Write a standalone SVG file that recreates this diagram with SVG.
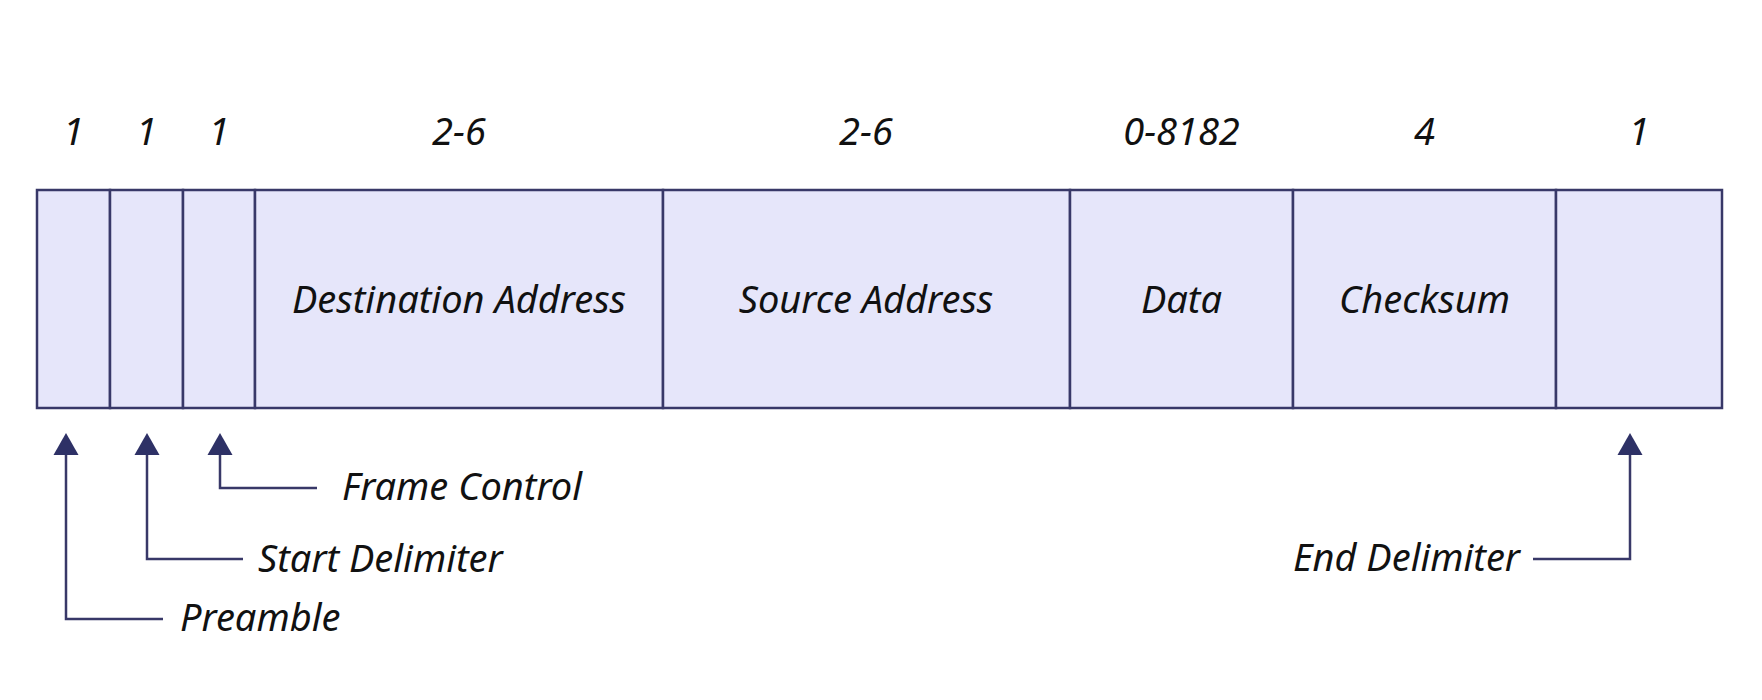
<svg xmlns="http://www.w3.org/2000/svg" width="1762" height="700" viewBox="0 0 1762 700">
<style>
.cell{fill:#e6e6fa;stroke:#383868;stroke-width:2.5}
.t{font-family:"Noto Sans","Liberation Sans",sans-serif;font-style:italic;font-size:38px;fill:#111}
.m{text-anchor:middle}
.c{fill:none;stroke:#383868;stroke-width:2.5}
.h{fill:#2e3166}
</style>
<rect width="1762" height="700" fill="#ffffff"/>
<g id="sizes">
<text class="t m" x="73.5" y="145">1</text>
<text class="t m" x="146.5" y="145">1</text>
<text class="t m" x="219" y="145">1</text>
<text class="t m" x="459" y="145">2-6</text>
<text class="t m" x="866" y="145">2-6</text>
<text class="t m" x="1181.5" y="145">0-8182</text>
<text class="t m" x="1424.5" y="145">4</text>
<text class="t m" x="1639" y="145">1</text>
</g>
<g id="preamble"><rect class="cell" x="37" y="190" width="73" height="218"/></g>
<g id="start-delimiter"><rect class="cell" x="110" y="190" width="73" height="218"/></g>
<g id="frame-control"><rect class="cell" x="183" y="190" width="72" height="218"/></g>
<g id="destination-address"><rect class="cell" x="255" y="190" width="408" height="218"/><text class="t m" x="459" y="313">Destination Address</text></g>
<g id="source-address"><rect class="cell" x="663" y="190" width="407" height="218"/><text class="t m" x="866" y="313">Source Address</text></g>
<g id="data"><rect class="cell" x="1070" y="190" width="223" height="218"/><text class="t m" x="1181.5" y="313">Data</text></g>
<g id="checksum"><rect class="cell" x="1293" y="190" width="263" height="218"/><text class="t m" x="1424.5" y="313">Checksum</text></g>
<g id="end-delimiter"><rect class="cell" x="1556" y="190" width="166" height="218"/></g>
<g id="connectors">
<polyline class="c" points="66,454 66,619 163,619"/>
<polygon class="h" points="66,433 53.5,455 78.5,455"/>
<polyline class="c" points="147,454 147,559 243,559"/>
<polygon class="h" points="147,433 134.5,455 159.5,455"/>
<polyline class="c" points="220,454 220,488 317,488"/>
<polygon class="h" points="220,433 207.5,455 232.5,455"/>
<polyline class="c" points="1630,454 1630,559 1533,559"/>
<polygon class="h" points="1630,433 1617.5,455 1642.5,455"/>
</g>
<g id="labels">
<text class="t" x="342" y="500">Frame Control</text>
<text class="t" x="258" y="572">Start Delimiter</text>
<text class="t" x="180" y="631">Preamble</text>
<text class="t" x="1520" y="571" text-anchor="end">End Delimiter</text>
</g>
</svg>
